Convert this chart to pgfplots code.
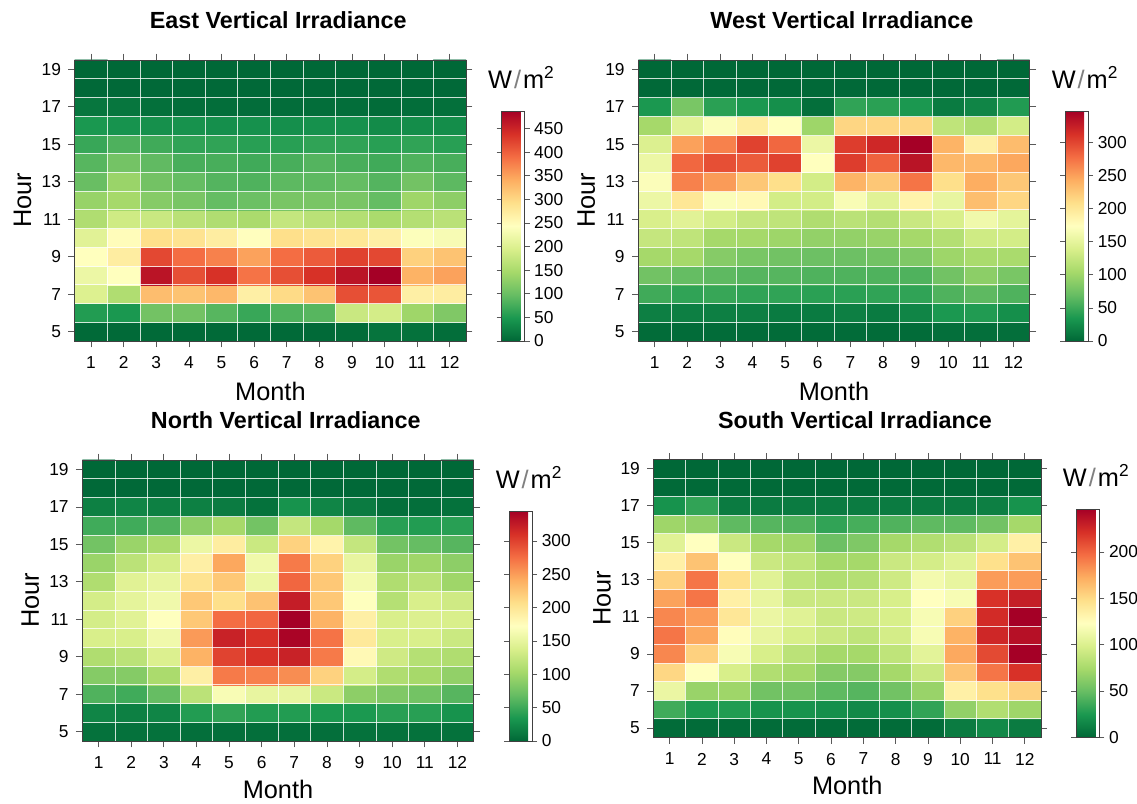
\documentclass[border=0pt]{standalone}
\usepackage{pgfplots}
\pgfplotsset{compat=1.18}
\usepackage{fontspec}
\setmainfont{Liberation Sans}
\newcommand\tickfont{\fontsize{13}{15}\selectfont}
\newcommand\unitlabel{\fontsize{19}{22}\selectfont W\kern1.5pt{\color{black!50}/}\kern1.5pt m\raisebox{7.5pt}{\fontsize{13}{14}\selectfont 2}}
\pgfplotsset{
 /pgf/number format/assume math mode=true,
 colormap={rdylgn}{rgb255=(0,104,55) rgb255=(26,152,80) rgb255=(102,189,99) rgb255=(166,217,106) rgb255=(217,239,139) rgb255=(255,255,191) rgb255=(254,224,139) rgb255=(253,174,97) rgb255=(244,109,67) rgb255=(215,48,39) rgb255=(165,0,38)},
 hm/.style={
   scale only axis, width=293.6pt, height=210.75pt, anchor=south west,
   xmin=0.5, xmax=12.5, ymin=4.5, ymax=19.5, enlargelimits=false,
   xtick={1,...,12}, ytick={5,7,...,19},
   minor xtick={1.5,2.5,...,11.5}, minor ytick={5.5,6.5,...,18.5},
   minor tick length=0pt, grid=minor,
   minor grid style={white, line width=0.55pt, opacity=0.8},
   axis on top, tick align=outside, major tick length=4.7pt,
   major tick style={black!65, line width=0.5pt},
   axis line style={black!75, line width=0.6pt},
   tick label style={font=\tickfont},
   xticklabel style={yshift=-3.5pt},
   yticklabel style={xshift=-2pt},
   xlabel={Month}, ylabel={Hour},
   label style={font=\fontsize{19}{22}\selectfont},
   xlabel style={at={(axis description cs:0.5,-0.181)}, anchor=center},
   ylabel style={at={(axis description cs:-0.133,0.5)}, anchor=center},
   title style={at={(axis description cs:0.52,1.142)}, anchor=center, yshift=-6pt, font=\bfseries\fontsize{17.5}{20}\selectfont},
   colormap name=rdylgn, point meta min=0,
   colorbar right,
   colorbar style={scale only axis, width=17.25pt, height=172.5pt,
     at={(parent axis.south east)}, anchor=south west, xshift=18pt,
     tick align=outside, major tick length=3.75pt,
     major tick style={black!65, line width=0.5pt},
     axis line style={black!75, line width=0.6pt},
     yticklabel style={font=\tickfont},
     title={\unitlabel}, title style={at={(0.5,1)}, anchor=base, xshift=6pt, yshift=11pt, font=\mdseries}},
 },
}
\begin{document}
\begin{tikzpicture}
\path[use as bounding box] (0,0) rectangle (852.75pt,602.25pt);
% East
\begin{axis}[hm, at={(56.0pt,346.5pt)}, title={East Vertical Irradiance}, point meta max=487,
  colorbar style={ytick={0,50,...,450}}]
\addplot[matrix plot*, mesh/cols=12, point meta=explicit] coordinates {
(1,5)[2] (2,5)[2] (3,5)[2] (4,5)[2] (5,5)[2] (6,5)[2] (7,5)[2] (8,5)[2] (9,5)[4] (10,5)[12] (11,5)[10] (12,5)[6]
(1,6)[54] (2,6)[49] (3,6)[107] (4,6)[107] (5,6)[88] (6,6)[68] (7,6)[83] (8,6)[88] (9,6)[180] (10,6)[190] (11,6)[141] (12,6)[117]
(1,7)[200] (2,7)[156] (3,7)[326] (4,7)[321] (5,7)[331] (6,7)[268] (7,7)[297] (8,7)[321] (9,7)[414] (10,7)[409] (11,7)[268] (12,7)[272]
(1,8)[219] (2,8)[243] (3,8)[467] (4,8)[414] (5,8)[438] (6,8)[385] (7,8)[414] (8,8)[438] (9,8)[467] (10,8)[487] (11,8)[336] (12,8)[350]
(1,9)[243] (2,9)[272] (3,9)[419] (4,9)[390] (5,9)[375] (6,9)[350] (7,9)[390] (8,9)[404] (9,9)[424] (10,9)[419] (11,9)[307] (12,9)[321]
(1,10)[205] (2,10)[248] (3,10)[292] (4,10)[287] (5,10)[272] (6,10)[245] (7,10)[292] (8,10)[287] (9,10)[282] (10,10)[268] (11,10)[240] (12,10)[233]
(1,11)[156] (2,11)[185] (3,11)[180] (4,11)[165] (5,11)[156] (6,11)[151] (7,11)[175] (8,11)[165] (9,11)[160] (10,11)[151] (11,11)[160] (12,11)[165]
(1,12)[135] (2,12)[146] (3,12)[122] (4,12)[112] (5,12)[97] (6,12)[102] (7,12)[112] (8,12)[112] (9,12)[112] (10,12)[97] (11,12)[141] (12,12)[127]
(1,13)[100] (2,13)[137] (3,13)[107] (4,13)[97] (5,13)[86] (6,13)[83] (7,13)[92] (8,13)[92] (9,13)[97] (10,13)[86] (11,13)[107] (12,13)[92]
(1,14)[88] (2,14)[108] (3,14)[94] (4,14)[78] (5,14)[78] (6,14)[73] (7,14)[78] (8,14)[86] (9,14)[78] (10,14)[73] (11,14)[83] (12,14)[78]
(1,15)[68] (2,15)[82] (3,15)[73] (4,15)[63] (5,15)[63] (6,15)[58] (7,15)[58] (8,15)[63] (9,15)[63] (10,15)[58] (11,15)[63] (12,15)[58]
(1,16)[49] (2,16)[44] (3,16)[41] (4,16)[43] (5,16)[40] (6,16)[42] (7,16)[40] (8,16)[42] (9,16)[42] (10,16)[36] (11,16)[38] (12,16)[38]
(1,17)[14] (2,17)[14] (3,17)[8] (4,17)[6] (5,17)[6] (6,17)[5] (7,17)[5] (8,17)[6] (9,17)[6] (10,17)[4] (11,17)[6] (12,17)[8]
(1,18)[1] (2,18)[1] (3,18)[1] (4,18)[1] (5,18)[1] (6,18)[1] (7,18)[1] (8,18)[1] (9,18)[1] (10,18)[1] (11,18)[1] (12,18)[1]
(1,19)[0] (2,19)[0] (3,19)[0] (4,19)[0] (5,19)[0] (6,19)[0] (7,19)[0] (8,19)[0] (9,19)[0] (10,19)[0] (11,19)[0] (12,19)[0]
};
\end{axis}
% West
\begin{axis}[hm, at={(478.7pt,346.5pt)}, title={West Vertical Irradiance}, point meta max=347,
  colorbar style={ytick={0,50,...,300}}]
\addplot[matrix plot*, mesh/cols=12, point meta=explicit] coordinates {
(1,5)[3] (2,5)[3] (3,5)[3] (4,5)[3] (5,5)[3] (6,5)[3] (7,5)[3] (8,5)[3] (9,5)[3] (10,5)[5] (11,5)[5] (12,5)[5]
(1,6)[17] (2,6)[17] (3,6)[17] (4,6)[17] (5,6)[14] (6,6)[14] (7,6)[17] (8,6)[14] (9,6)[21] (10,6)[35] (11,6)[38] (12,6)[28]
(1,7)[52] (2,7)[45] (3,7)[48] (4,7)[45] (5,7)[45] (6,7)[42] (7,7)[42] (8,7)[45] (9,7)[45] (10,7)[59] (11,7)[66] (12,7)[59]
(1,8)[76] (2,8)[69] (3,8)[66] (4,8)[62] (5,8)[62] (6,8)[59] (7,8)[59] (8,8)[59] (9,8)[59] (10,8)[76] (11,8)[90] (12,8)[80]
(1,9)[104] (2,9)[104] (3,9)[87] (4,9)[80] (5,9)[76] (6,9)[73] (7,9)[73] (8,9)[76] (9,9)[83] (10,9)[100] (11,9)[107] (12,9)[107]
(1,10)[125] (2,10)[121] (3,10)[104] (4,10)[104] (5,10)[100] (6,10)[94] (7,10)[94] (8,10)[97] (9,10)[104] (10,10)[114] (11,10)[132] (12,10)[135]
(1,11)[139] (2,11)[146] (3,11)[135] (4,11)[125] (5,11)[121] (6,11)[111] (7,11)[118] (8,11)[114] (9,11)[128] (10,11)[139] (11,11)[160] (12,11)[149]
(1,12)[156] (2,12)[201] (3,12)[170] (4,12)[180] (5,12)[135] (6,12)[135] (7,12)[167] (8,12)[146] (9,12)[187] (10,12)[153] (11,12)[232] (12,12)[215]
(1,13)[170] (2,13)[267] (3,13)[253] (4,13)[226] (5,13)[208] (6,13)[135] (7,13)[239] (8,13)[226] (9,13)[274] (10,13)[208] (11,13)[243] (12,13)[226]
(1,14)[156] (2,14)[281] (3,14)[295] (4,14)[288] (5,14)[302] (6,14)[174] (7,14)[305] (8,14)[284] (9,14)[333] (10,14)[236] (11,14)[236] (12,14)[246]
(1,15)[142] (2,15)[250] (3,15)[267] (4,15)[302] (5,15)[281] (6,15)[156] (7,15)[305] (8,15)[319] (9,15)[347] (10,15)[239] (11,15)[191] (12,15)[233]
(1,16)[104] (2,16)[146] (3,16)[170] (4,16)[194] (5,16)[174] (6,16)[100] (7,16)[215] (8,16)[215] (9,16)[215] (10,16)[121] (11,16)[111] (12,16)[135]
(1,17)[35] (2,17)[80] (3,17)[42] (4,17)[35] (5,17)[28] (6,17)[5] (7,17)[45] (8,17)[42] (9,17)[35] (10,17)[14] (11,17)[21] (12,17)[38]
(1,18)[1] (2,18)[1] (3,18)[1] (4,18)[1] (5,18)[1] (6,18)[1] (7,18)[1] (8,18)[1] (9,18)[1] (10,18)[1] (11,18)[1] (12,18)[1]
(1,19)[0] (2,19)[0] (3,19)[0] (4,19)[0] (5,19)[0] (6,19)[0] (7,19)[0] (8,19)[0] (9,19)[0] (10,19)[0] (11,19)[0] (12,19)[0]
};
\end{axis}
% North
\begin{axis}[hm, at={(61.7pt,46.5pt)}, title={North Vertical Irradiance}, point meta max=345,
  xlabel style={at={(axis description cs:0.5,-0.172)}},
  colorbar style={ytick={0,50,...,300}}]
\addplot[matrix plot*, mesh/cols=12, point meta=explicit] coordinates {
(1,5)[7] (2,5)[7] (3,5)[7] (4,5)[5] (5,5)[5] (6,5)[5] (7,5)[5] (8,5)[5] (9,5)[7] (10,5)[7] (11,5)[7] (12,5)[7]
(1,6)[21] (2,6)[17] (3,6)[21] (4,6)[38] (5,6)[45] (6,6)[38] (7,6)[38] (8,6)[35] (9,6)[35] (10,6)[41] (11,6)[41] (12,6)[31]
(1,7)[59] (2,7)[52] (3,7)[69] (4,7)[118] (5,7)[166] (6,7)[152] (7,7)[152] (8,7)[128] (9,7)[90] (10,7)[83] (11,7)[76] (12,7)[62]
(1,8)[86] (2,8)[86] (3,8)[107] (4,8)[190] (5,8)[269] (6,8)[266] (7,8)[259] (8,8)[217] (9,8)[135] (10,8)[110] (11,8)[104] (12,8)[93]
(1,9)[110] (2,9)[118] (3,9)[141] (4,9)[238] (5,9)[300] (6,9)[310] (7,9)[321] (8,9)[269] (9,9)[179] (10,9)[131] (11,9)[114] (12,9)[110]
(1,10)[138] (2,10)[138] (3,10)[159] (4,10)[252] (5,10)[321] (6,10)[310] (7,10)[342] (8,10)[273] (9,10)[197] (10,10)[138] (11,10)[138] (12,10)[128]
(1,11)[135] (2,11)[145] (3,11)[172] (4,11)[224] (5,11)[276] (6,11)[280] (7,11)[345] (8,11)[238] (9,11)[190] (10,11)[138] (11,11)[141] (12,11)[138]
(1,12)[135] (2,12)[149] (3,12)[159] (4,12)[224] (5,12)[207] (6,12)[228] (7,12)[324] (8,12)[224] (9,12)[172] (10,12)[114] (11,12)[138] (12,12)[131]
(1,13)[110] (2,13)[145] (3,13)[152] (4,13)[204] (5,13)[224] (6,13)[155] (7,13)[280] (8,13)[224] (9,13)[162] (10,13)[110] (11,13)[118] (12,13)[100]
(1,14)[97] (2,14)[118] (3,14)[135] (4,14)[190] (5,14)[245] (6,14)[159] (7,14)[269] (8,14)[217] (9,14)[152] (10,14)[97] (11,14)[100] (12,14)[90]
(1,15)[76] (2,15)[97] (3,15)[107] (4,15)[155] (5,15)[193] (6,15)[128] (7,15)[217] (8,15)[186] (9,15)[124] (10,15)[76] (11,15)[69] (12,15)[62]
(1,16)[52] (2,16)[52] (3,16)[59] (4,16)[90] (5,16)[104] (6,16)[76] (7,16)[124] (8,16)[103] (9,16)[66] (10,16)[41] (11,16)[38] (12,16)[41]
(1,17)[17] (2,17)[21] (3,17)[17] (4,17)[17] (5,17)[14] (6,17)[7] (7,17)[31] (8,17)[21] (9,17)[14] (10,17)[5] (11,17)[5] (12,17)[7]
(1,18)[1] (2,18)[1] (3,18)[1] (4,18)[1] (5,18)[1] (6,18)[1] (7,18)[1] (8,18)[1] (9,18)[1] (10,18)[1] (11,18)[1] (12,18)[1]
(1,19)[0] (2,19)[0] (3,19)[0] (4,19)[0] (5,19)[0] (6,19)[0] (7,19)[0] (8,19)[0] (9,19)[0] (10,19)[0] (11,19)[0] (12,19)[0]
};
\end{axis}
% South
\begin{axis}[hm, at={(490.1pt,49.3pt)}, width=290.6pt, height=208.4pt, title={South Vertical Irradiance}, point meta max=246,
  xlabel style={at={(axis description cs:0.5,-0.175)}},
  colorbar style={ytick={0,50,...,200}, height=171pt}]
\addplot[matrix plot*, mesh/cols=12, point meta=explicit] coordinates {
(1,5)[2] (2,5)[2] (3,5)[2] (4,5)[2] (5,5)[2] (6,5)[2] (7,5)[2] (8,5)[2] (9,5)[2] (10,5)[10] (11,5)[17] (12,5)[10]
(1,6)[37] (2,6)[25] (3,6)[27] (4,6)[22] (5,6)[22] (6,6)[20] (7,6)[17] (8,6)[20] (9,6)[32] (10,6)[66] (11,6)[79] (12,6)[71]
(1,7)[110] (2,7)[69] (3,7)[71] (4,7)[54] (5,7)[54] (6,7)[47] (7,7)[44] (8,7)[54] (9,7)[69] (10,7)[135] (11,7)[147] (12,7)[155]
(1,8)[152] (2,8)[123] (3,8)[98] (4,8)[79] (5,8)[74] (6,8)[61] (7,8)[61] (8,8)[74] (9,8)[91] (10,8)[162] (11,8)[194] (12,8)[221]
(1,9)[187] (2,9)[155] (3,9)[118] (4,9)[98] (5,9)[84] (6,9)[74] (7,9)[74] (8,9)[86] (9,9)[105] (10,9)[174] (11,9)[211] (12,9)[246]
(1,10)[194] (2,10)[174] (3,10)[125] (4,10)[108] (5,10)[98] (6,10)[91] (7,10)[86] (8,10)[96] (9,10)[118] (10,10)[170] (11,10)[226] (12,10)[238]
(1,11)[187] (2,11)[179] (3,11)[142] (4,11)[110] (5,11)[103] (6,11)[91] (7,11)[93] (8,11)[98] (9,11)[118] (10,11)[155] (11,11)[224] (12,11)[246]
(1,12)[177] (2,12)[194] (3,12)[135] (4,12)[108] (5,12)[91] (6,12)[91] (7,12)[91] (8,12)[98] (9,12)[123] (10,12)[118] (11,12)[221] (12,12)[231]
(1,13)[155] (2,13)[194] (3,13)[147] (4,13)[103] (5,13)[86] (6,13)[79] (7,13)[81] (8,13)[93] (9,13)[115] (10,13)[108] (11,13)[179] (12,13)[179]
(1,14)[135] (2,14)[162] (3,14)[123] (4,14)[91] (5,14)[86] (6,14)[74] (7,14)[74] (8,14)[91] (9,14)[96] (10,14)[103] (11,14)[147] (12,14)[162]
(1,15)[103] (2,15)[123] (3,15)[91] (4,15)[74] (5,15)[71] (6,15)[52] (7,15)[59] (8,15)[74] (9,15)[79] (10,15)[84] (11,15)[96] (12,15)[135]
(1,16)[71] (2,16)[66] (3,16)[47] (4,16)[44] (5,16)[42] (6,16)[32] (7,16)[39] (8,16)[42] (9,16)[47] (10,16)[47] (11,16)[54] (12,16)[74]
(1,17)[22] (2,17)[32] (3,17)[10] (4,17)[10] (5,17)[10] (6,17)[10] (7,17)[10] (8,17)[10] (9,17)[10] (10,17)[10] (11,17)[12] (12,17)[22]
(1,18)[1] (2,18)[1] (3,18)[1] (4,18)[1] (5,18)[1] (6,18)[1] (7,18)[1] (8,18)[1] (9,18)[1] (10,18)[1] (11,18)[1] (12,18)[1]
(1,19)[0] (2,19)[0] (3,19)[0] (4,19)[0] (5,19)[0] (6,19)[0] (7,19)[0] (8,19)[0] (9,19)[0] (10,19)[0] (11,19)[0] (12,19)[0]
};
\end{axis}
\end{tikzpicture}
\end{document}
